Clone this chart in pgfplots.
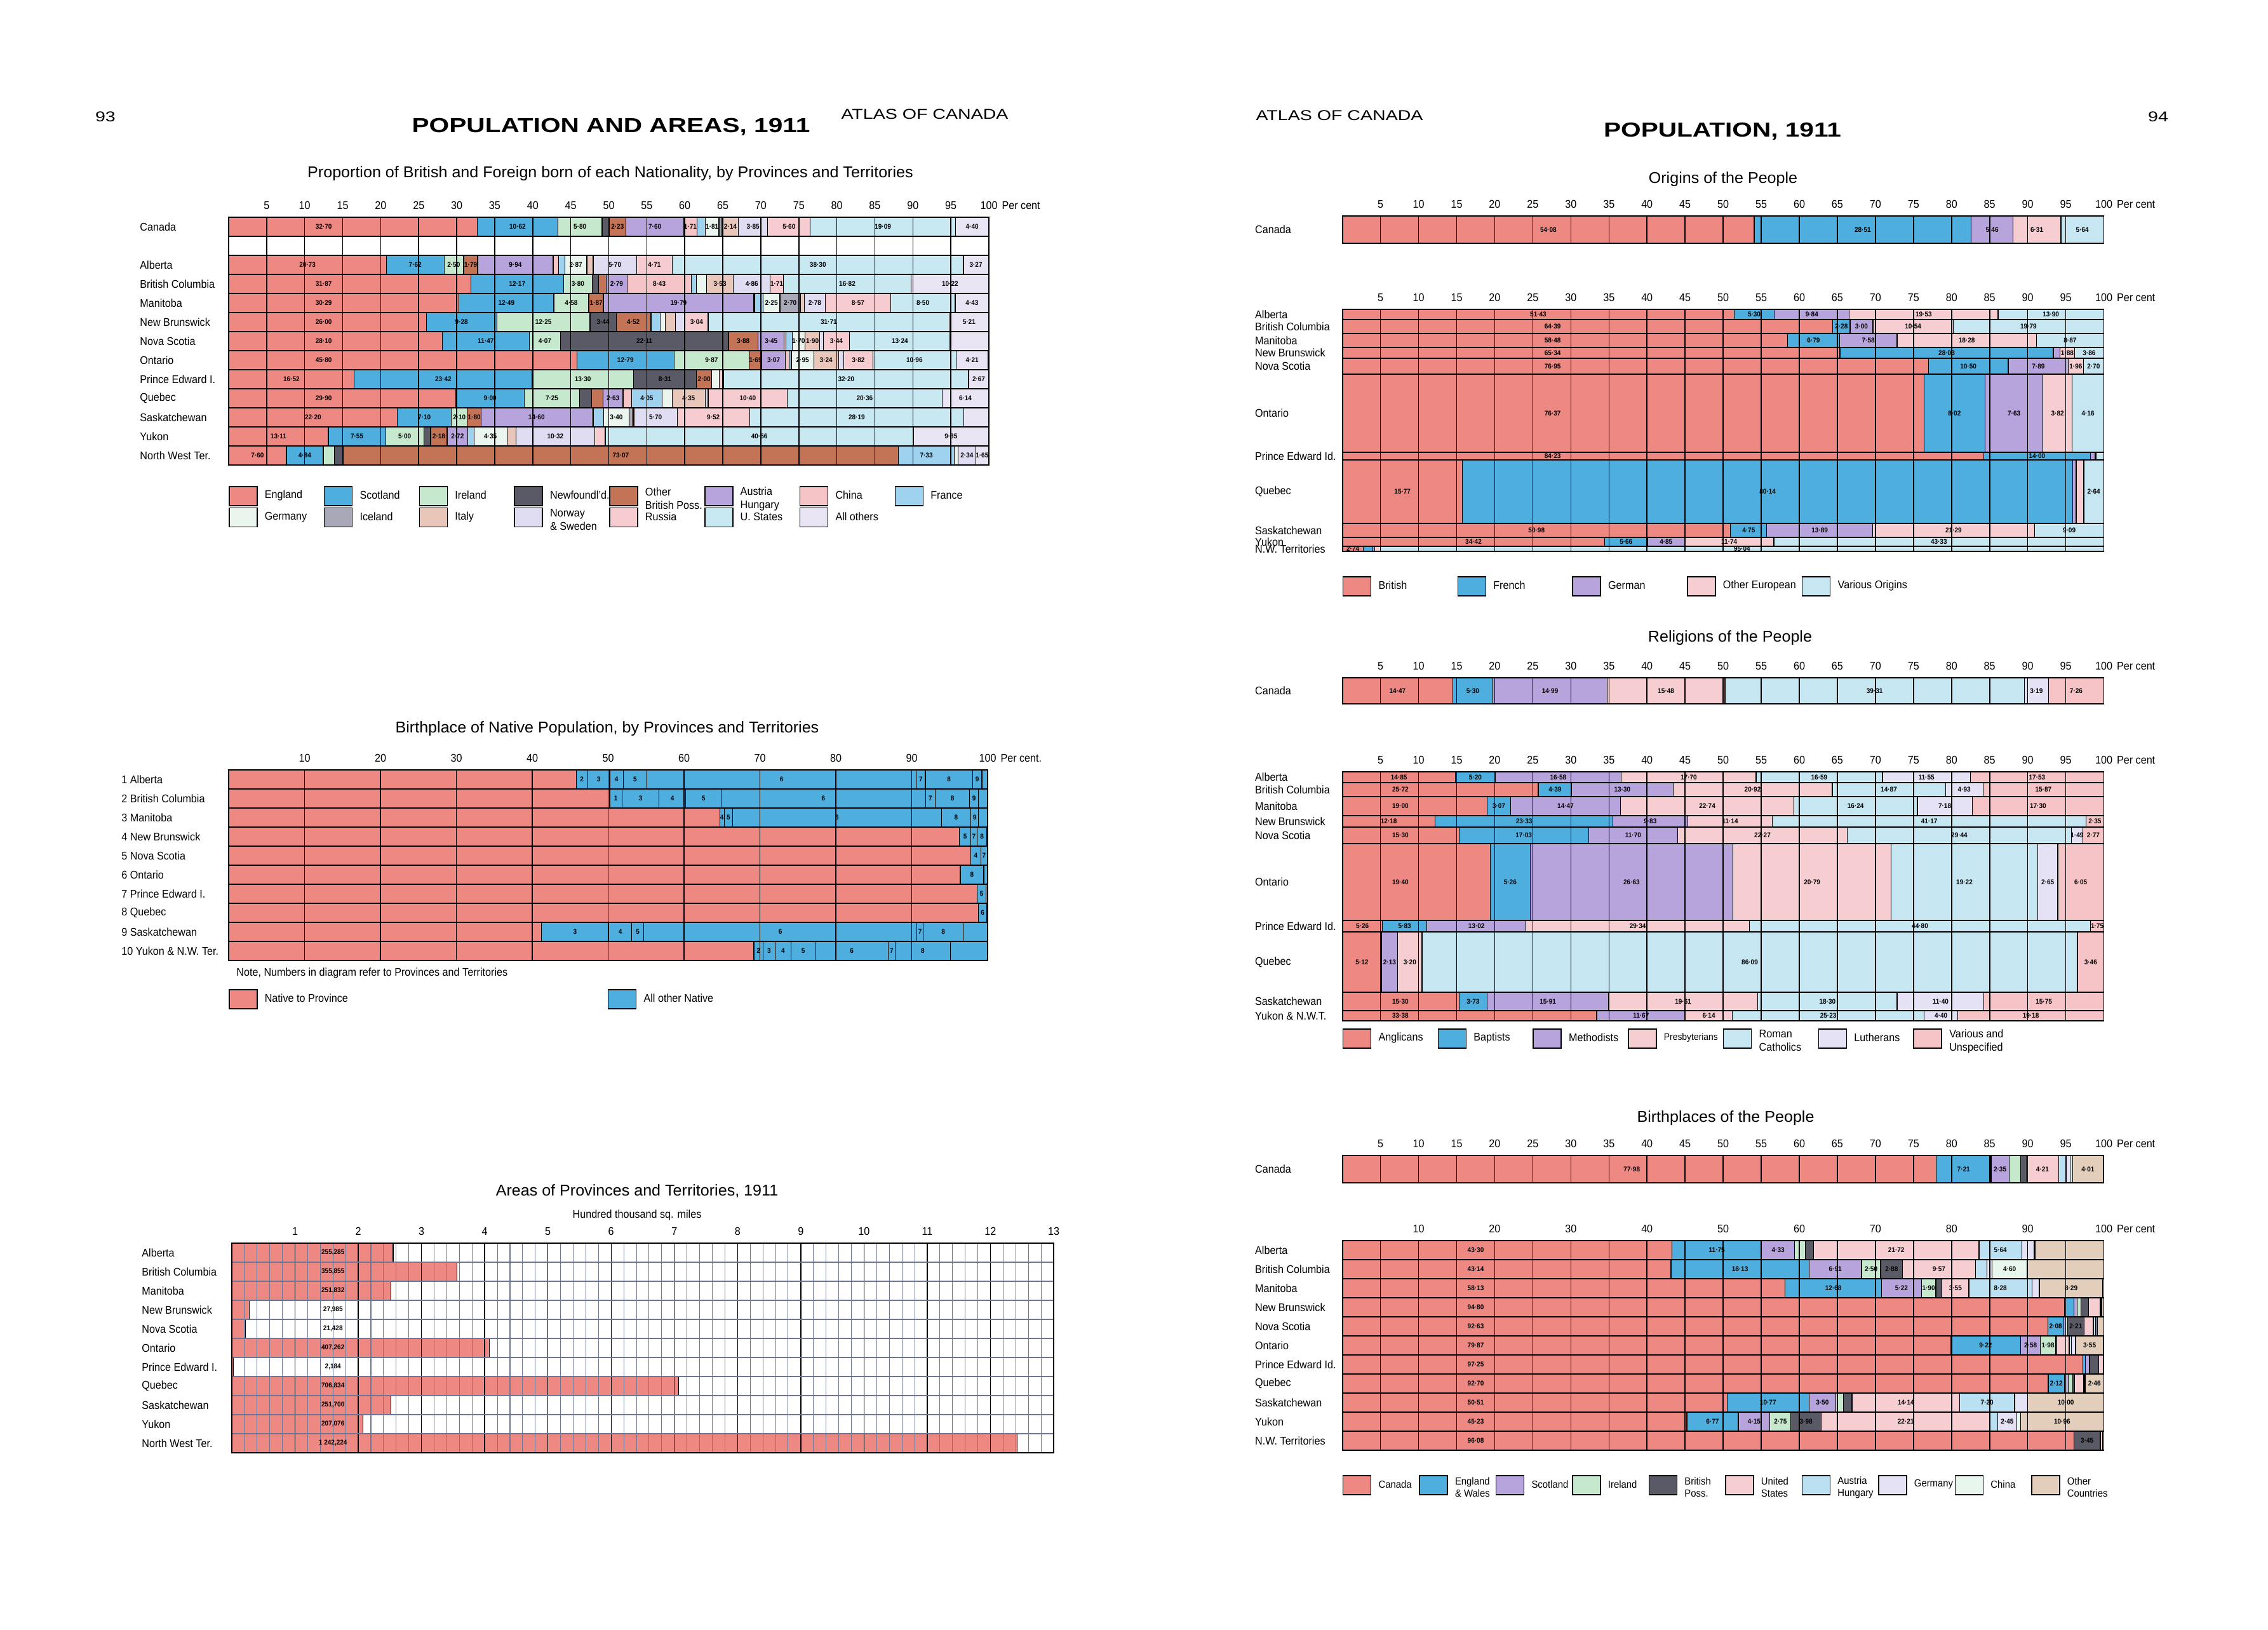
\documentclass[border=0pt]{standalone}
\usepackage{pgfplots}
\pgfplotsset{compat=1.18}
\usepackage{pgfplotstable}
\usepackage{fontspec}
\setmainfont{Liberation Sans}[FakeStretch=0.92]
\newfontfamily\hdfont{Liberation Sans}[FakeStretch=1.27]
\newfontfamily\ttlfont{Liberation Sans}[FakeStretch=1.02]

\definecolor{cRed}{RGB}{238,136,130}
\definecolor{cBlue}{RGB}{78,174,222}
\definecolor{cGreen}{RGB}{198,232,204}
\definecolor{cDark}{RGB}{90,90,102}
\definecolor{cBrown}{RGB}{196,116,86}
\definecolor{cPurple}{RGB}{184,164,220}
\definecolor{cChina}{RGB}{244,196,198}
\definecolor{cFrance}{RGB}{158,210,238}
\definecolor{cGermany}{RGB}{234,245,238}
\definecolor{cIceland}{RGB}{168,168,184}
\definecolor{cItaly}{RGB}{232,198,186}
\definecolor{cNorway}{RGB}{224,220,242}
\definecolor{cRussia}{RGB}{246,204,208}
\definecolor{cUS}{RGB}{200,232,242}
\definecolor{cOthers}{RGB}{232,228,244}
\definecolor{cPink}{RGB}{246,206,210}
\definecolor{cLBlue}{RGB}{198,230,242}
\definecolor{cLav}{RGB}{228,226,244}
\definecolor{cVar}{RGB}{246,196,198}
\definecolor{cTan}{RGB}{226,206,186}
\definecolor{cAH}{RGB}{186,224,242}
\definecolor{cChinaB}{RGB}{232,245,236}
\definecolor{cGrid}{RGB}{110,118,150}

\newcommand\lbl{\fontsize{5}{6}\selectfont}
\newcommand\ttl{\ttlfont\fontsize{7}{8}\selectfont}
\newcommand\vlab{\fontsize{3.1}{3.6}\selectfont\bfseries}
\newcommand\umL{0.1197cm}
\newcommand\umR{0.11988cm}
\newcommand\legt[2]{\parbox[c]{#1}{\raggedright #2}}
\newcommand\showif[2]{\pgfmathparse{#1>#2}\ifdim\pgfmathresult pt>0.5pt\pgfmathprintnumber[vfmt]{#1}\fi}

\pgfkeys{/pgf/number format/vfmt/.style={fixed,fixed zerofill,precision=2,assume math mode=true,set decimal separator={\textperiodcentered}}}
\tikzset{vnode/.style={anchor=center,inner sep=0pt,font=\vlab,text=black}}

\pgfplotsset{
  /pgf/number format/assume math mode=true,
  tick label style={font=\lbl},
  unif/.style={scale only axis, anchor=north west, xmin=0, xmax=100, y dir=reverse,
    xbar stacked, axis on top, xmajorgrids, major grid style={black,line width=0.45pt},
    axis line style={line width=0.5pt}, major tick length=0pt, minor tick length=0pt,
    xticklabel pos=upper, tick style={draw=none}, yticklabel style={anchor=west}},
  rowax/.style={scale only axis, anchor=north west, width=11.988cm, xmin=0, xmax=100,
    ymin=-0.5, ymax=0.5, hide axis, xbar stacked, clip=false},
  frameax/.style={scale only axis, anchor=north west, width=11.988cm, xmin=0, xmax=100,
    ymin=0, y dir=reverse, xmajorgrids, major grid style={black,line width=0.45pt},
    axis line style={line width=0.5pt}, major tick length=0pt, xticklabel pos=upper,
    tick style={draw=none}, yticklabel style={anchor=west,xshift=-1.50cm}},
  fivelabs/.style={xtick={5,10,...,100},
    xticklabels={5,10,15,20,25,30,35,40,45,50,55,60,65,70,75,80,85,90,95,{100\rlap{\hspace{0.4em}Per cent}}}},
  boxleg/.style={legend image code/.code={\draw[##1,draw=black,line width=0.45pt] (0cm,-0.15cm) rectangle (0.44cm,0.15cm); \path[draw=none,fill=none] (0cm,0cm) rectangle (0.56cm,0.01cm);},
    legend style={draw=none,fill=none,inner sep=0pt,outer sep=0pt,column sep=0pt,row sep=0.02cm,nodes={inner sep=0pt,font=\lbl}}, legend cell align=left},
}

% stacked segment from a table column: #1 col, #2 colour, #3 table, #4 unit, #5 threshold
% (nodes near coords of stacked bars sit at the middle of each segment)
\newcommand\catplot[5]{%
 \addplot[fill=#2, draw=black, line width=0.35pt,
  visualization depends on={\thisrow{#1} \as \segv},
  nodes near coords={\showif{\segv}{#5}},
  every node near coord/.append style={vnode}]
  table[x=#1, y=row]{#3};}
\newcommand\catplotF[6]{%
 \addplot[fill=#2, draw=black, line width=0.35pt,
  visualization depends on={\thisrow{#1} \as \segv},
  nodes near coords={\showif{\segv}{#5}},
  every node near coord/.append style={vnode, xshift={(min(\segv/2,#6)-\segv/2)*#4}}]
  table[x=#1, y=row]{#3};}
% single-row segments
\newcommand\mseg[3][1.8]{%
 \addplot[fill=#3, draw=black, line width=0.35pt,
  nodes near coords={\showif{#2}{#1}},
  every node near coord/.append style={vnode}]
  coordinates {(#2,0)};}
\newcommand\msegF[3]{%
 \addplot[fill=#2, draw=black, line width=0.35pt,
  nodes near coords={\pgfmathprintnumber[vfmt]{#1}},
  every node near coord/.append style={vnode, xshift={(min(#1/2,#3)-#1/2)*\umR}}]
  coordinates {(#1,0)};}
\newcommand\natseg[2]{%
 \addplot[fill=cBlue, draw=black, line width=0.35pt, point meta=explicit symbolic,
  nodes near coords, every node near coord/.append style={vnode}]
  table[x=#1, y=row, meta=#2]{\tabB};}
% origins row: top, height, British, French, German, Other European, Various
\newcommand\orow[7]{%
 \begin{axis}[rowax, at={(21.137cm,#1cm)}, height=#2cm, bar width=#2cm]
 \msegF{#3}{cRed}{27.6}\mseg[1.8]{#4}{cBlue}\mseg[1.8]{#5}{cPurple}\mseg[1.8]{#6}{cPink}\mseg[1.8]{#7}{cLBlue}
 \end{axis}}
% religions row
\newcommand\rrow[9]{%
 \begin{axis}[rowax, at={(21.137cm,#1cm)}, height=#2cm, bar width=#2cm]
 \msegF{#3}{cRed}{7.6}\mseg[1.4]{#4}{cBlue}\mseg[1.4]{#5}{cPurple}\mseg[1.4]{#6}{cPink}\mseg[1.4]{#7}{cLBlue}\mseg[1.4]{#8}{cLav}\mseg[1.4]{#9}{cVar}
 \end{axis}}

% ---------- data ----------
\pgfplotstableread{
row Eng Sco Ire New OBP Aus Chi Fra Ger Ice Ita Nor Rus US Oth
0 32.70 10.62 5.80 0.92 2.23 7.60 1.71 1.11 1.81 0.42 2.14 3.85 5.60 19.09 4.40
2 20.73 7.62 2.50 0.10 1.79 9.94 0.75 0.80 2.87 0.05 0.80 5.70 4.71 38.30 3.27
3 31.87 12.17 3.80 0.80 1.00 2.79 8.43 0.65 1.35 0.00 3.53 4.86 1.71 16.82 10.22
4 30.29 12.49 4.58 0.05 1.87 19.79 0.10 1.10 2.25 2.70 0.50 2.78 8.57 8.50 4.43
5 26.00 9.28 12.25 3.44 4.52 0.00 0.10 1.15 0.70 0.00 1.30 1.30 3.04 31.71 5.21
6 28.10 11.47 4.07 22.11 3.88 3.45 0.20 0.85 1.70 0.00 1.90 0.50 3.44 13.24 5.10
7 45.80 12.79 9.87 0.00 1.69 3.07 0.50 0.30 2.95 0.00 3.24 0.70 3.82 10.96 4.21
8 16.52 23.42 13.30 8.31 2.00 0.00 0.00 0.00 0.98 0.00 0.00 0.00 0.60 32.20 2.67
9 29.90 9.00 7.25 1.60 1.50 2.63 1.10 4.05 1.30 0.00 4.35 0.40 10.40 20.36 6.14
10 22.20 7.10 2.10 0.00 1.80 14.60 0.20 1.30 3.40 0.40 0.20 5.70 9.52 28.19 3.30
11 13.11 7.55 5.00 0.90 2.18 2.72 0.00 0.80 4.35 0.00 1.20 10.32 1.40 40.56 9.85
12 7.60 4.84 1.50 1.10 73.07 0.00 0.00 7.33 0.50 0.00 0.00 2.34 0.00 0.00 1.65
}\tabA

\pgfplotstableread{
row nat a b c d e f g h i la lb lc ld le lf lg lh li
0 45.80 1.50 2.90 1.80 3.10 35.50 1.20 6.20 1.25 0.75 2 3 4 5 6 7 8 9 {}
1 50.20 1.65 4.86 3.50 4.70 26.90 1.30 4.50 1.20 1.19 1 3 4 5 6 7 8 9 {}
2 64.70 0.60 1.10 27.50 3.90 1.00 1.20 0.00 0.00 0.00 4 5 6 8 9 {} {} {} {}
3 96.30 1.50 0.80 1.30 0.10 0.00 0.00 0.00 0.00 0.00 5 7 8 {} {} {} {} {} {}
4 97.80 1.30 0.85 0.05 0.00 0.00 0.00 0.00 0.00 0.00 4 7 {} {} {} {} {} {} {}
5 96.40 3.10 0.50 0.00 0.00 0.00 0.00 0.00 0.00 0.00 8 {} {} {} {} {} {} {} {}
6 98.60 1.20 0.20 0.00 0.00 0.00 0.00 0.00 0.00 0.00 5 {} {} {} {} {} {} {} {}
7 98.80 1.10 0.10 0.00 0.00 0.00 0.00 0.00 0.00 0.00 6 {} {} {} {} {} {} {} {}
8 41.20 8.90 3.00 1.60 36.00 0.80 5.30 3.20 0.00 0.00 3 4 5 6 7 8 {} {} {}
9 69.20 1.20 1.60 2.10 3.20 9.60 0.90 7.30 4.90 0.00 2 3 4 5 6 7 8 {} {}
}\tabB

\pgfplotstableread{
row val lab
0 2.55285 {255,285}
1 3.55855 {355,855}
2 2.51832 {251,832}
3 0.27985 {27,985}
4 0.21428 {21,428}
5 4.07262 {407,262}
6 0.02184 {2,184}
7 7.06834 {706,834}
8 2.51700 {251,700}
9 2.07076 {207,076}
10 12.42224 {1 242,224}
}\tabC

\pgfplotstableread{
row Can EW Sco Ire BP US AH Ger Chi Oth
0 43.30 11.75 4.33 1.40 1.10 21.72 5.64 1.60 0.10 9.10
1 43.14 18.13 6.91 2.50 2.88 9.57 1.50 0.70 4.60 10.09
2 58.13 12.68 5.22 1.90 0.80 3.55 8.28 0.90 0.10 8.29
3 94.80 1.30 0.40 0.50 1.00 1.50 0.10 0.10 0.00 0.30
4 92.63 2.08 0.30 0.20 2.21 1.20 0.30 0.20 0.00 0.88
5 79.87 9.22 2.58 1.98 0.20 1.60 0.30 0.50 0.10 3.55
6 97.25 0.30 0.50 0.10 1.20 0.60 0.00 0.00 0.00 0.05
7 92.70 2.12 0.50 0.60 0.20 1.20 0.10 0.10 0.02 2.46
8 50.51 10.77 3.50 1.00 1.15 14.14 7.20 1.73 0.00 10.00
9 45.23 6.77 4.15 2.75 3.98 22.21 1.00 2.45 0.50 10.96
10 96.08 0.00 0.00 0.00 3.45 0.30 0.00 0.00 0.00 0.17
}\tabD

\begin{document}
\begin{tikzpicture}
\path[use as bounding box] (0,0) rectangle (35.71,25.65);

% ---------- headers ----------
\node[font={\hdfont\fontsize{6.4}{7}\selectfont}] at (1.66,23.81) {93};
\node[font={\hdfont\bfseries\fontsize{9.1}{10}\selectfont}] at (9.62,23.65) {POPULATION AND AREAS, 1911};
\node[font={\hdfont\fontsize{6.4}{7}\selectfont}] at (14.56,23.85) {ATLAS OF CANADA};
\node[font={\hdfont\fontsize{6.4}{7}\selectfont}] at (21.09,23.83) {ATLAS OF CANADA};
\node[font={\hdfont\bfseries\fontsize{9.1}{10}\selectfont}] at (27.12,23.58) {POPULATION, 1911};
\node[font={\hdfont\fontsize{6.4}{7}\selectfont}] at (33.98,23.81) {94};

% ---------- chart 1 ----------
\node[font=\ttl] at (9.61,22.92) {Proportion of British and Foreign born of each Nationality, by Provinces and Territories};
\begin{axis}[unif, boxleg, at={(3.60cm,22.23cm)}, width=11.97cm, height=3.90cm,
  ymin=-0.5, ymax=12.5, bar width=0.30cm, fivelabs,
  ytick={0,2,3,4,5,6,7,8,9,10,11,12},
  yticklabels={Canada,Alberta,British Columbia,Manitoba,New Brunswick,Nova Scotia,Ontario,Prince Edward I.,Quebec,Saskatchewan,Yukon,North West Ter.},
  yticklabel style={xshift=-1.52cm},
  legend columns=8, legend style={at={(0,-0.169)}, anchor=west}]
\addlegendimage{fill=cRed}\addlegendentry{\legt{0.93cm}{England}}
\addlegendimage{fill=cBlue}\addlegendentry{\legt{0.93cm}{Scotland}}
\addlegendimage{fill=cGreen}\addlegendentry{\legt{0.93cm}{Ireland}}
\addlegendimage{fill=cDark}\addlegendentry{\legt{0.93cm}{Newfoundl'd.}}
\addlegendimage{fill=cBrown}\addlegendentry{\legt{0.93cm}{Other\\British Poss.}}
\addlegendimage{fill=cPurple}\addlegendentry{\legt{0.93cm}{Austria\\Hungary}}
\addlegendimage{fill=cChina}\addlegendentry{\legt{0.93cm}{China}}
\addlegendimage{fill=cFrance}\addlegendentry{\legt{0.93cm}{France}}
\addlegendimage{fill=cGermany}\addlegendentry{\legt{0.93cm}{Germany}}
\addlegendimage{fill=cIceland}\addlegendentry{\legt{0.93cm}{Iceland}}
\addlegendimage{fill=cItaly}\addlegendentry{\legt{0.93cm}{Italy}}
\addlegendimage{fill=cNorway}\addlegendentry{\legt{0.93cm}{Norway\\\& Sweden}}
\addlegendimage{fill=cRussia}\addlegendentry{\legt{0.93cm}{Russia}}
\addlegendimage{fill=cUS}\addlegendentry{\legt{0.93cm}{U. States}}
\addlegendimage{fill=cOthers}\addlegendentry{\legt{0.93cm}{All others}}
\catplotF{Eng}{cRed}{\tabA}{\umL}{1.6}{12.5}
\catplot{Sco}{cBlue}{\tabA}{\umL}{1.6}
\catplot{Ire}{cGreen}{\tabA}{\umL}{1.6}
\catplot{New}{cDark}{\tabA}{\umL}{1.6}
\catplot{OBP}{cBrown}{\tabA}{\umL}{1.6}
\catplot{Aus}{cPurple}{\tabA}{\umL}{1.6}
\catplot{Chi}{cChina}{\tabA}{\umL}{1.6}
\catplot{Fra}{cFrance}{\tabA}{\umL}{1.6}
\catplot{Ger}{cGermany}{\tabA}{\umL}{1.6}
\catplot{Ice}{cIceland}{\tabA}{\umL}{1.6}
\catplot{Ita}{cItaly}{\tabA}{\umL}{1.6}
\catplot{Nor}{cNorway}{\tabA}{\umL}{1.6}
\catplot{Rus}{cRussia}{\tabA}{\umL}{1.6}
\catplot{US}{cUS}{\tabA}{\umL}{1.6}
\catplot{Oth}{cOthers}{\tabA}{\umL}{1.6}
\end{axis}

% ---------- chart 2 ----------
\node[font=\ttl] at (9.56,14.18) {Birthplace of Native Population, by Provinces and Territories};
\begin{axis}[unif, boxleg, at={(3.60cm,13.53cm)}, width=11.95cm, height=3.0cm,
  ymin=-0.5, ymax=9.5, bar width=0.30cm,
  xtick={10,20,...,100}, xticklabels={10,20,30,40,50,60,70,80,90,{100\rlap{\hspace{0.4em}Per cent.}}},
  ytick={0,...,9},
  yticklabels={1 Alberta,2 British Columbia,3 Manitoba,4 New Brunswick,5 Nova Scotia,6 Ontario,7 Prince Edward I.,8 Quebec,9 Saskatchewan,10 Yukon \& N.W. Ter.},
  yticklabel style={xshift=-1.81cm},
  legend columns=2, legend style={at={(0,-0.203)}, anchor=west}]
\addlegendimage{fill=cRed}\addlegendentry{\legt{5.40cm}{Native to Province}}
\addlegendimage{fill=cBlue}\addlegendentry{\legt{2cm}{All other Native}}
\addplot[fill=cRed, draw=black, line width=0.35pt] table[x=nat, y=row]{\tabB};
\natseg{a}{la}\natseg{b}{lb}\natseg{c}{lc}\natseg{d}{ld}\natseg{e}{le}
\natseg{f}{lf}\natseg{g}{lg}\natseg{h}{lh}\natseg{i}{li}
\end{axis}
\node[font=\lbl, anchor=west] at (3.60,10.33) {Note, Numbers in diagram refer to Provinces and Territories};

% ---------- chart 3 ----------
\node[font=\ttl] at (10.03,6.90) {Areas of Provinces and Territories, 1911};
\node[font=\lbl] at (10.03,6.52) {Hundred thousand sq. miles};
\begin{axis}[scale only axis, anchor=north west, at={(3.65cm,6.08cm)}, width=12.94cm, height=3.30cm,
  xmin=0, xmax=13, ymin=-0.5, ymax=10.5, y dir=reverse, xbar, bar width=0.30cm, axis on top,
  xtick={0,...,13}, xticklabels={,1,2,3,4,5,6,7,8,9,10,11,12,13}, minor x tick num=4,
  xmajorgrids, xminorgrids, yminorgrids, minor ytick={0.5,1.5,...,9.5},
  major grid style={black,line width=0.4pt}, minor grid style={cGrid,line width=0.3pt},
  axis line style={line width=0.5pt}, major tick length=0pt, minor tick length=0pt,
  tick style={draw=none}, xticklabel pos=upper,
  ytick={0,...,10},
  yticklabels={Alberta,British Columbia,Manitoba,New Brunswick,Nova Scotia,Ontario,Prince Edward I.,Quebec,Saskatchewan,Yukon,North West Ter.},
  yticklabel style={anchor=west, xshift=-1.54cm}]
\addplot[fill=cRed, draw=black, line width=0.35pt, point meta=explicit symbolic,
  visualization depends on={\thisrow{val} \as \segv},
  nodes near coords, every node near coord/.append style={vnode, xshift={(1.6-\segv)*0.9954cm}}]
  table[x=val, y=row, meta=lab]{\tabC};
\end{axis}

% ---------- Origins ----------
\node[font=\ttl] at (27.13,22.83) {Origins of the People};
\begin{axis}[unif, at={(21.137cm,22.25cm)}, width=11.988cm, height=0.43cm, ymin=-0.5, ymax=0.5,
  bar width=0.43cm, fivelabs, ytick={0}, yticklabels={Canada}, yticklabel style={xshift=-1.50cm}]
\msegF{54.08}{cRed}{27.6}\mseg{28.51}{cBlue}\mseg{5.46}{cPurple}\mseg{6.31}{cPink}\mseg{5.64}{cLBlue}
\end{axis}
\orow{20.78}{0.16}{51.43}{5.30}{9.84}{19.53}{13.90}
\orow{20.62}{0.22}{64.39}{2.28}{3.00}{10.54}{19.79}
\orow{20.40}{0.22}{58.48}{6.79}{7.58}{18.28}{8.87}
\orow{20.18}{0.17}{65.34}{28.03}{0.89}{1.88}{3.86}
\orow{20.01}{0.25}{76.95}{10.50}{7.89}{1.96}{2.70}
\orow{19.76}{1.23}{76.37}{8.02}{7.63}{3.82}{4.16}
\orow{18.53}{0.12}{84.23}{14.00}{0.64}{0.10}{1.03}
\orow{18.41}{1.00}{15.77}{80.14}{0.45}{1.00}{2.64}
\orow{17.41}{0.22}{50.98}{4.75}{13.89}{21.29}{9.09}
\orow{17.19}{0.14}{34.42}{5.66}{4.85}{11.74}{43.33}
\orow{17.05}{0.08}{2.74}{1.22}{0.30}{0.70}{95.04}
\begin{axis}[frameax, boxleg, at={(21.137cm,20.78cm)}, height=3.81cm, ymax=381, fivelabs,
  ytick={8,27,49,68.5,89.5,163.5,231,287,348,366,377},
  yticklabels={Alberta,British Columbia,Manitoba,New Brunswick,Nova Scotia,Ontario,Prince Edward Id.,Quebec,Saskatchewan,Yukon,N.W. Territories},
  legend columns=5, legend style={at={(0,-0.144)}, anchor=west}]
\addlegendimage{fill=cRed}\addlegendentry{\legt{1.24cm}{British}}
\addlegendimage{fill=cBlue}\addlegendentry{\legt{1.24cm}{French}}
\addlegendimage{fill=cPurple}\addlegendentry{\legt{1.24cm}{German}}
\addlegendimage{fill=cPink}\addlegendentry{\legt{1.24cm}{Other European}}
\addlegendimage{fill=cLBlue}\addlegendentry{\legt{1.24cm}{Various Origins}}
\end{axis}

% ---------- Religions ----------
\node[font=\ttl] at (27.24,15.61) {Religions of the People};
\begin{axis}[unif, at={(21.137cm,14.98cm)}, width=11.988cm, height=0.41cm, ymin=-0.5, ymax=0.5,
  bar width=0.41cm, fivelabs, ytick={0}, yticklabels={Canada}, yticklabel style={xshift=-1.50cm}]
\msegF{14.47}{cRed}{7.6}\mseg{5.30}{cBlue}\mseg{14.99}{cPurple}\mseg{15.48}{cPink}\mseg{39.31}{cLBlue}\mseg{3.19}{cLav}\mseg{7.26}{cVar}
\end{axis}
\rrow{13.50}{0.17}{14.85}{5.20}{16.58}{17.70}{16.59}{11.55}{17.53}
\rrow{13.33}{0.22}{25.72}{4.39}{13.30}{20.92}{14.87}{4.93}{15.87}
\rrow{13.11}{0.30}{19.00}{3.07}{14.47}{22.74}{16.24}{7.18}{17.30}
\rrow{12.81}{0.18}{12.18}{23.33}{9.83}{11.14}{41.17}{0.00}{2.35}
\rrow{12.63}{0.26}{15.30}{17.03}{11.70}{22.27}{29.44}{1.49}{2.77}
\rrow{12.37}{1.21}{19.40}{5.26}{26.63}{20.79}{19.22}{2.65}{6.05}
\rrow{11.16}{0.18}{5.26}{5.83}{13.02}{29.34}{44.80}{0.00}{1.75}
\rrow{10.98}{0.95}{5.12}{0.00}{2.13}{3.20}{86.09}{0.00}{3.46}
\rrow{10.03}{0.29}{15.30}{3.73}{15.91}{19.61}{18.30}{11.40}{15.75}
\rrow{9.74}{0.16}{33.38}{0.00}{11.67}{6.14}{25.23}{4.40}{19.18}
\begin{axis}[frameax, boxleg, at={(21.137cm,13.50cm)}, height=3.92cm, ymax=392, fivelabs,
  ytick={8.5,28,54,78,100,173.5,243,299.5,361.5,384},
  yticklabels={Alberta,British Columbia,Manitoba,New Brunswick,Nova Scotia,Ontario,Prince Edward Id.,Quebec,Saskatchewan,Yukon \& N.W.T.},
  legend columns=7, legend style={at={(0,-0.071)}, anchor=west}]
\addlegendimage{fill=cRed}\addlegendentry{\legt{0.93cm}{Anglicans}}
\addlegendimage{fill=cBlue}\addlegendentry{\legt{0.93cm}{Baptists}}
\addlegendimage{fill=cPurple}\addlegendentry{\legt{0.93cm}{Methodists}}
\addlegendimage{fill=cPink}\addlegendentry{\legt{0.93cm}{\fontsize{4.3}{5}\selectfont Presbyterians}}
\addlegendimage{fill=cLBlue}\addlegendentry{\legt{0.93cm}{Roman\\Catholics}}
\addlegendimage{fill=cLav}\addlegendentry{\legt{0.93cm}{Lutherans}}
\addlegendimage{fill=cVar}\addlegendentry{\legt{0.93cm}{Various and\\Unspecified}}
\end{axis}

% ---------- Birthplaces ----------
\node[font=\ttl] at (27.17,8.05) {Birthplaces of the People};
\begin{axis}[unif, at={(21.137cm,7.46cm)}, width=11.988cm, height=0.43cm, ymin=-0.5, ymax=0.5,
  bar width=0.43cm, fivelabs, ytick={0}, yticklabels={Canada}, yticklabel style={xshift=-1.50cm}]
\msegF{77.98}{cRed}{38}\mseg[1.85]{7.21}{cBlue}\mseg[1.85]{2.35}{cPurple}\mseg[1.85]{1.50}{cGreen}\mseg[1.85]{0.80}{cDark}
\mseg[1.85]{4.21}{cPink}\mseg[1.85]{1.00}{cAH}\mseg[1.85]{0.50}{cLav}\mseg[1.85]{0.35}{cChinaB}\mseg[1.85]{4.01}{cTan}
\end{axis}
\begin{axis}[unif, boxleg, at={(21.137cm,6.12cm)}, width=11.988cm, height=3.30cm,
  ymin=-0.5, ymax=10.5, bar width=0.30cm,
  xtick={5,10,...,100}, xticklabels={,10,,20,,30,,40,,50,,60,,70,,80,,90,,{100\rlap{\hspace{0.4em}Per cent}}},
  ytick={0,...,10},
  yticklabels={Alberta,British Columbia,Manitoba,New Brunswick,Nova Scotia,Ontario,Prince Edward Id.,Quebec,Saskatchewan,Yukon,N.W. Territories},
  yticklabel style={xshift=-1.50cm},
  legend columns=10, legend style={at={(0,-0.167)}, anchor=west, nodes={inner sep=0pt,font=\fontsize{4.6}{5.4}\selectfont}}]
\addlegendimage{fill=cRed}\addlegendentry{\legt{0.637cm}{Canada}}
\addlegendimage{fill=cBlue}\addlegendentry{\legt{0.637cm}{England\\\& Wales}}
\addlegendimage{fill=cPurple}\addlegendentry{\legt{0.637cm}{Scotland}}
\addlegendimage{fill=cGreen}\addlegendentry{\legt{0.637cm}{Ireland}}
\addlegendimage{fill=cDark}\addlegendentry{\legt{0.637cm}{British\\Poss.}}
\addlegendimage{fill=cPink}\addlegendentry{\legt{0.637cm}{United\\States}}
\addlegendimage{fill=cAH}\addlegendentry{\legt{0.637cm}{Austria\\Hungary}}
\addlegendimage{fill=cLav}\addlegendentry{\legt{0.637cm}{Germany}}
\addlegendimage{fill=cChinaB}\addlegendentry{\legt{0.637cm}{China}}
\addlegendimage{fill=cTan}\addlegendentry{\legt{0.637cm}{Other\\Countries}}
\catplotF{Can}{cRed}{\tabD}{\umR}{1.85}{17.5}
\catplot{EW}{cBlue}{\tabD}{\umR}{1.85}
\catplot{Sco}{cPurple}{\tabD}{\umR}{1.85}
\catplot{Ire}{cGreen}{\tabD}{\umR}{1.85}
\catplot{BP}{cDark}{\tabD}{\umR}{1.85}
\catplot{US}{cPink}{\tabD}{\umR}{1.85}
\catplot{AH}{cAH}{\tabD}{\umR}{1.85}
\catplot{Ger}{cLav}{\tabD}{\umR}{1.85}
\catplot{Chi}{cChinaB}{\tabD}{\umR}{1.85}
\catplot{Oth}{cTan}{\tabD}{\umR}{1.85}
\end{axis}
\end{tikzpicture}
\end{document}
